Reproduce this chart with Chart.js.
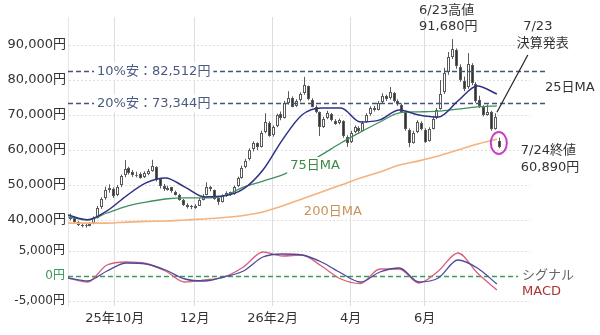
<!DOCTYPE html>
<html lang="ja">
<head>
<meta charset="utf-8">
<script src="https://cdn.jsdelivr.net/npm/chart.js@4"></script>
<style>
  html, body { margin: 0; padding: 0; background: #fff; }
  canvas { display: block; }
</style>
</head>
<body>
<canvas id="stockChart" width="600" height="335"></canvas>
<script>
// candles: one bar per 2 trading days, first one on day 1
const candleStartDay = 1;
const candleStep = 2;
const opens = [40200, 40600, 39400, 38700, 38200, 38400, 39000, 40600, 43600, 46200,
  48700, 49000, 47200, 49800, 52800, 54800, 53700, 52600, 53200, 52300,
  53200, 54200, 55200, 51600, 49700, 48700, 49300, 48100, 47200, 45700,
  44400, 43900, 43400, 44200, 45900, 47200, 49300, 48500, 46200, 45300,
  47000, 47900, 47400, 49600, 52200, 55200, 57300, 60200, 62000, 61000,
  65200, 67800, 64200, 66800, 70200, 69200, 73600, 75000, 72700, 74200,
  76200, 78200, 74400, 72400, 70800, 66700, 69200, 70300, 68400, 67600,
  68300, 63800, 62300, 65200, 66400, 65600, 68000, 70200, 72100, 71600,
  73700, 75400, 74700, 76300, 73900, 72900, 70800, 65800, 62200, 65200,
  67800, 65800, 62700, 66200, 69200, 71800, 76500, 82200, 86800, 88500,
  83800, 79800, 77800, 84200, 78800, 74200, 72300, 70200, 70800, 66200, 62500];
const highs = [41800, 41000, 39700, 39000, 38900, 39400, 41000, 44000, 46500, 49500,
  50200, 49300, 50000, 53000, 57100, 55200, 54300, 53800, 53600, 53900,
  54600, 57200, 55400, 52000, 50300, 49800, 49500, 48400, 47500, 46000,
  44800, 44300, 44500, 46200, 47400, 50800, 49700, 48700, 46500, 47300,
  48200, 48100, 49800, 52400, 55500, 57500, 60500, 62500, 62200, 65500,
  70500, 68200, 67000, 70400, 71000, 74000, 76800, 75300, 74500, 76500,
  80900, 78400, 74800, 72800, 71000, 69500, 71200, 70600, 68800, 69000,
  68500, 64200, 65500, 67000, 66800, 68300, 70500, 72500, 72600, 74000,
  76200, 75800, 78000, 76600, 74500, 73300, 71000, 66200, 65500, 68500,
  68200, 66200, 66500, 69500, 72000, 80000, 83500, 88000, 91680, 89000,
  84500, 81000, 87700, 84800, 79400, 75500, 72800, 73000, 71200, 70500, 63500];
const lows = [39900, 39200, 38300, 37900, 37800, 38200, 38800, 40400, 43200, 45800,
  47800, 46300, 46800, 49400, 52200, 53000, 52300, 52200, 51800, 52000,
  52800, 53800, 51000, 49000, 48300, 48400, 47800, 47000, 45500, 44000,
  43300, 43100, 43200, 44000, 45600, 47000, 48200, 45800, 44300, 45000,
  46600, 46900, 47200, 49400, 51800, 54800, 57000, 59600, 60000, 60700,
  64800, 63800, 63800, 66500, 68500, 69000, 73000, 72200, 72300, 73800,
  75800, 74200, 72200, 70500, 64000, 66300, 68800, 68200, 67200, 67300,
  63500, 60900, 62000, 64800, 65000, 65400, 67700, 69800, 71000, 71300,
  73300, 74000, 74400, 73600, 72600, 70600, 65500, 60800, 61800, 64800,
  65600, 62000, 62400, 65900, 68800, 71500, 76000, 81500, 86000, 83200,
  79500, 76800, 77500, 78500, 73500, 72000, 69600, 69800, 65500, 65800, 60500];
const closes = [40800, 39500, 38600, 38300, 38500, 38900, 40500, 43500, 46000, 48500,
  49200, 47000, 49500, 52500, 54500, 53500, 52800, 53000, 52200, 53300,
  54000, 55500, 51500, 49500, 48800, 49200, 48200, 47300, 45800, 44300,
  43800, 43500, 44000, 45800, 47000, 49500, 48600, 46000, 45200, 47000,
  47800, 47300, 49500, 52000, 55000, 57000, 60000, 62000, 60800, 65000,
  68000, 64000, 66500, 70000, 69000, 73500, 75000, 72500, 74000, 76000,
  78500, 74500, 72500, 71000, 66500, 69000, 70500, 68500, 67500, 68500,
  64000, 62000, 65000, 66500, 65500, 67800, 70000, 72000, 71500, 73500,
  75500, 74500, 76500, 74000, 73000, 71000, 66000, 62000, 65000, 68000,
  66000, 62500, 66000, 69000, 71500, 76000, 82000, 86500, 89000, 84000,
  80000, 77500, 84500, 79000, 74000, 72500, 70000, 71000, 66000, 69500, 60890];

// moving averages and MACD, one value every 10 trading days from day 0
const lineStep = 10;
const ma25 = [41400, 40100, 42600, 46900, 50600, 52000, 49400, 46600, 46900, 48900, 54300, 62900,
  70000, 72000, 72000, 68000, 68600, 71400, 70000, 69400, 74000, 78300, 76000];
const ma75 = [40900, 40000, 42000, 43900, 45100, 46000, 46300, 46300, 46900, 49400, 51100, 52900,
  55400, 58600, 62000, 65100, 68000, 70600, 70900, 71100, 71700, 72300, 72600];
const ma200 = [39100, 39100, 39100, 39400, 39600, 39700, 40000, 40300, 40700, 41300, 42300, 44000,
  46000, 48000, 50000, 52000, 53700, 55700, 56900, 58300, 60000, 61700, 63100];
const macd = [-400, -1200, 2200, 2800, 2500, 1000, -1200, -800, -200, 1800, 4800, 4000,
  4200, 2000, -600, -1500, 1400, 1400, -1400, 1000, 4600, 600, -2800];
const signal = [-400, -1000, 1000, 2600, 2400, 1200, -600, -1000, -200, 1000, 3800, 4400,
  4200, 2800, 600, -1200, 800, 1600, -1200, -400, 3200, 1600, -1600];

const monthDays = [24, 65, 105, 145, 183];
const monthLabels = ['25年10月', '12月', '26年2月', '4月', '6月'];
const priceTicks = [40000, 50000, 60000, 70000, 80000, 90000];
const macdTicks = [-5000, 0, 5000];
const drop10 = 82512;
const drop20 = 73344;
const highPrice = 91680;

const fmt = v => String(v).replace(/\B(?=(\d{3})+(?!\d))/g, ',');
const font = '"DejaVu Sans", "Noto Sans CJK JP", sans-serif';
Chart.defaults.font.family = font;
Chart.defaults.font.size = 13;

const candleDays = opens.map((_, i) => candleStartDay + i * candleStep);
const lastIdx = closes.length - 1;
const highIdx = highs.indexOf(highPrice);
const toPoints = arr => arr.map((v, i) => ({ x: i * lineStep, y: v }));

function text(ctx, str, x, y, color, align, bg) {
    ctx.textAlign = align || 'left';
    ctx.textBaseline = 'middle';
    if (bg) {
        const w = ctx.measureText(str).width;
        const left = align === 'center' ? x - w / 2 : x;
        ctx.fillStyle = '#fff';
        ctx.fillRect(left - 3, y - 9, w + 6, 18);
    }
    ctx.fillStyle = color;
    ctx.fillText(str, x, y);
}

// candlesticks, placed with the chart's own x / y scales
const candlePlugin = {
    id: 'candles',
    beforeDatasetsDraw(chart) {
        const { ctx, scales: { x, y } } = chart;
        ctx.save();
        ctx.lineWidth = 1;
        candleDays.forEach((d, i) => {
            const cx = Math.round(x.getPixelForValue(d));
            const yo = y.getPixelForValue(opens[i]);
            const yc = y.getPixelForValue(closes[i]);
            ctx.strokeStyle = '#5a5a5a';
            ctx.beginPath();
            ctx.moveTo(cx + 0.5, y.getPixelForValue(highs[i]));
            ctx.lineTo(cx + 0.5, y.getPixelForValue(lows[i]));
            ctx.stroke();
            const top = Math.round(Math.min(yo, yc));
            const h = Math.max(Math.round(Math.abs(yo - yc)), 1);
            ctx.fillStyle = closes[i] >= opens[i] ? '#ffffff' : '#333333';
            ctx.fillRect(cx - 1, top, 3, h);
            ctx.strokeRect(cx - 0.5, top + 0.5, 2, Math.max(h - 1, 0));
        });
        ctx.restore();
    }
};

const notesPlugin = {
    id: 'notes',
    beforeDatasetsDraw(chart) {
        const { ctx, chartArea: area, scales } = chart;
        ctx.save();
        ctx.lineWidth = 1.5;
        ctx.setLineDash([5, 3]);
        ctx.strokeStyle = '#44527e';
        [drop10, drop20].forEach(v => {
            const py = Math.round(scales.y.getPixelForValue(v)) + 0.5;
            ctx.beginPath(); ctx.moveTo(area.left, py); ctx.lineTo(area.right + 18, py); ctx.stroke();
        });
        ctx.strokeStyle = '#3d9a5c';
        const zy = Math.round(scales.macd.getPixelForValue(0)) + 0.5;
        ctx.beginPath(); ctx.moveTo(area.left, zy); ctx.lineTo(area.right - 12, zy); ctx.stroke();
        ctx.restore();
    },
    afterDatasetsDraw(chart) {
        const { ctx, chartArea: area, scales: { x, y, macd: m } } = chart;
        ctx.save();
        ctx.font = '13px ' + font;

        // drop lines labels
        text(ctx, '10%安：' + fmt(drop10) + '円', area.left + 29, y.getPixelForValue(drop10), '#4a5a80', 'left', true);
        text(ctx, '20%安：' + fmt(drop20) + '円', area.left + 29, y.getPixelForValue(drop20), '#4a5a80', 'left', true);

        // 6/23 high
        const hx = x.getPixelForValue(candleDays[highIdx]);
        const hy = y.getPixelForValue(highPrice);
        text(ctx, '6/23高値', hx - 33, hy - 28, '#333');
        text(ctx, fmt(highPrice) + '円', hx - 33, hy - 12, '#333');

        // earnings note
        const lx = x.getPixelForValue(candleDays[lastIdx]);
        const px = x.getPixelForValue(candleDays[lastIdx - 1]);
        text(ctx, '7/23', lx + 39, area.top + 10, '#333', 'center');
        text(ctx, '決算発表', lx + 44, area.top + 27, '#333', 'center');
        ctx.strokeStyle = '#222';
        ctx.lineWidth = 1.2;
        ctx.beginPath();
        ctx.moveTo(lx + 29, area.top + 38);
        ctx.lineTo(px + 2, y.getPixelForValue(highs[lastIdx - 1]) - 1);
        ctx.stroke();

        // MA labels
        text(ctx, '25日MA', area.right + 15, y.getPixelForValue(ma25[ma25.length - 1]) - 6, '#333');
        text(ctx, '75日MA', x.getPixelForValue(114), y.getPixelForValue(55400), '#3b8a45', 'left', true);
        text(ctx, '200日MA', x.getPixelForValue(121), y.getPixelForValue(42300), '#c8925a');

        // last close
        const cy = y.getPixelForValue(closes[lastIdx]);
        text(ctx, '7/24終値', lx + 22, cy + 4, '#333');
        text(ctx, fmt(closes[lastIdx]) + '円', lx + 22, cy + 21, '#333');
        ctx.strokeStyle = '#c63fc6';
        ctx.lineWidth = 2;
        ctx.beginPath();
        ctx.ellipse(lx, y.getPixelForValue((highs[lastIdx] + lows[lastIdx]) / 2), 8, 11, 0, 0, Math.PI * 2);
        ctx.stroke();

        // MACD labels
        text(ctx, 'シグナル', area.right - 8, m.getPixelForValue(0), '#666');
        text(ctx, 'MACD', area.right - 8, m.getPixelForValue(-3200), '#a33');
        ctx.restore();
    }
};

const maLine = (label, data, color, width, axis) => ({
    label: label,
    data: toPoints(data),
    yAxisID: axis || 'y',
    borderColor: color,
    borderWidth: width,
    pointRadius: 0,
    cubicInterpolationMode: 'monotone'
});

new Chart(document.getElementById('stockChart'), {
    type: 'line',
    data: {
        datasets: [
            maLine('25日MA', ma25, '#2e3185', 1.5),
            maLine('75日MA', ma75, '#3f8f5f', 1.3),
            maLine('200日MA', ma200, '#f4b27c', 1.6),
            maLine('シグナル', signal, '#4b4a9c', 1.3, 'macd'),
            maLine('MACD', macd, '#d9607c', 1.3, 'macd')
        ]
    },
    options: {
        responsive: false,
        animation: false,
        layout: { padding: { top: 17, right: 70, bottom: 0, left: 0 } },
        plugins: { legend: { display: false }, tooltip: { enabled: false } },
        scales: {
            x: {
                type: 'linear',
                min: 0,
                max: 237,
                grid: { color: '#dddddd', drawTicks: false },
                border: { display: false },
                ticks: {
                    color: '#333',
                    padding: 5,
                    maxRotation: 0,
                    autoSkip: false,
                    callback: v => monthLabels[monthDays.indexOf(v)] || ''
                },
                afterBuildTicks: s => { s.ticks = monthDays.map(v => ({ value: v })); },
                afterFit: s => { s.height = 29; }
            },
            macd: {
                type: 'linear',
                position: 'left',
                stack: 'panes',
                stackWeight: 65,
                min: -6000,
                max: 7000,
                grid: { color: c => c.tick && c.tick.value === 0 ? 'rgba(0,0,0,0)' : '#dddddd', drawTicks: false },
                border: { color: '#e6e6e6', dash: [2, 2] },
                ticks: {
                    padding: 3,
                    font: { size: 12 },
                    color: c => c.tick && c.tick.value === 0 ? '#3d9a5c' : '#333',
                    callback: v => fmt(v) + '円'
                },
                afterBuildTicks: s => { s.ticks = macdTicks.map(v => ({ value: v })); },
                afterFit: s => { s.width = 68; }
            },
            y: {
                type: 'linear',
                position: 'left',
                stack: 'panes',
                stackWeight: 224,
                min: 34000,
                max: 98000,
                grid: { color: '#dddddd', drawTicks: false },
                border: { color: '#e6e6e6', dash: [2, 2] },
                ticks: { padding: 2, color: '#333', callback: v => fmt(v) + '円' },
                afterBuildTicks: s => { s.ticks = priceTicks.map(v => ({ value: v })); },
                afterFit: s => { s.width = 68; }
            }
        }
    },
    plugins: [candlePlugin, notesPlugin]
});
</script>
</body>
</html>
